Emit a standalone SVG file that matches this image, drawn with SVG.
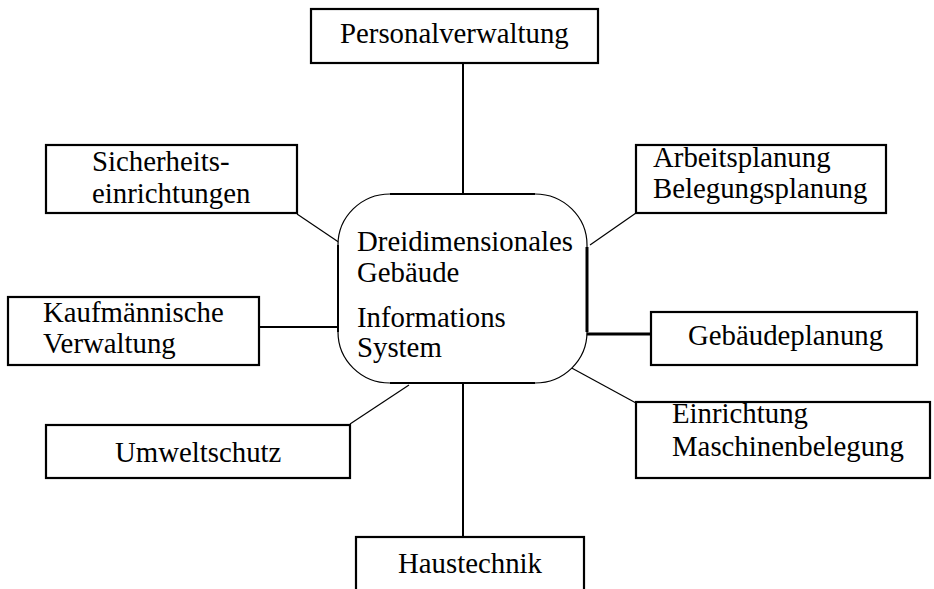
<svg xmlns="http://www.w3.org/2000/svg" width="934" height="589" viewBox="0 0 934 589">
<style>
.box{fill:#fff;stroke:#000;stroke-width:2.2}
.t{font-family:"Liberation Serif","Times New Roman",serif;font-size:28.8px;fill:#000}
.c{stroke:#000;fill:none}
.thin{stroke-width:1.2}
.med{stroke-width:2}
.thick{stroke-width:3}
</style>
<rect width="934" height="589" fill="#fff"/>
<g id="connectors">
<line class="c med" x1="463" y1="63" x2="463" y2="193"/>
<line class="c thin" x1="297" y1="214" x2="340" y2="243"/>
<line class="c med" x1="259" y1="327" x2="342" y2="327"/>
<line class="c thin" x1="350" y1="424" x2="409" y2="385"/>
<line class="c med" x1="463" y1="383" x2="463" y2="537"/>
<line class="c thin" x1="636" y1="213" x2="590" y2="245"/>
<line class="c thick" x1="584" y1="334" x2="651" y2="334"/>
<line class="c thin" x1="568" y1="366" x2="636" y2="403"/>
</g>
<g id="center">
<rect x="338" y="194" width="249" height="189" rx="52" ry="51" fill="#fff" stroke="#000" stroke-width="1.2"/>
<line class="c med" x1="390" y1="194" x2="535" y2="194"/>
<line class="c med" x1="390" y1="383" x2="535" y2="383"/>
<line class="c med" x1="338" y1="245" x2="338" y2="332"/>
<line class="c thick" x1="587" y1="247" x2="587" y2="332"/>
<text class="t" x="357" y="251">Dreidimensionales</text>
<text class="t" x="357" y="282">Gebäude</text>
<text class="t" x="357" y="327">Informations</text>
<text class="t" x="357" y="357">System</text>
</g>
<g id="personalverwaltung">
<rect class="box" x="311" y="9" width="287" height="54"/>
<text class="t" x="340" y="43">Personalverwaltung</text>
</g>
<g id="sicherheit">
<rect class="box" x="46" y="145" width="251" height="68"/>
<text class="t" x="92" y="171">Sicherheits-</text>
<text class="t" x="92" y="203">einrichtungen</text>
</g>
<g id="kaufmaennisch">
<rect class="box" x="8" y="297" width="251" height="68"/>
<text class="t" x="43" y="322">Kaufmännische</text>
<text class="t" x="43" y="353">Verwaltung</text>
</g>
<g id="umweltschutz">
<rect class="box" x="46" y="425" width="304" height="53"/>
<text class="t" x="115" y="462">Umweltschutz</text>
</g>
<g id="haustechnik">
<rect class="box" x="356" y="537" width="228" height="70"/>
<text class="t" x="398" y="573">Haustechnik</text>
</g>
<g id="arbeitsplanung">
<rect class="box" x="636" y="145" width="250" height="68"/>
<text class="t" x="653" y="167">Arbeitsplanung</text>
<text class="t" x="653" y="198">Belegungsplanung</text>
</g>
<g id="gebaeudeplanung">
<rect class="box" x="651" y="312" width="266" height="53"/>
<text class="t" x="688" y="345">Gebäudeplanung</text>
</g>
<g id="einrichtung">
<rect class="box" x="636" y="402" width="294" height="76"/>
<text class="t" x="672" y="423">Einrichtung</text>
<text class="t" x="672" y="456">Maschinenbelegung</text>
</g>
</svg>
